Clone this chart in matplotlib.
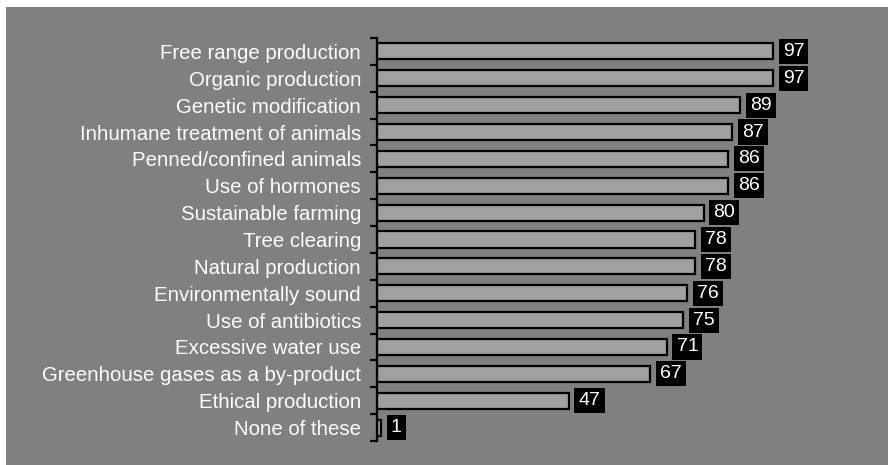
"""Attributes consumers care about - horizontal bar chart"""

import matplotlib
matplotlib.use('Agg')
from matplotlib import pyplot as plt
from matplotlib.patches import Rectangle
import numpy as np

categories = ['Free range production', 'Organic production', 'Genetic modification',
              'Inhumane treatment of animals', 'Penned/confined animals', 'Use of hormones',
              'Sustainable farming', 'Tree clearing', 'Natural production',
              'Environmentally sound', 'Use of antibiotics', 'Excessive water use',
              'Greenhouse gases as a by-product', 'Ethical production', 'None of these']
values = [97, 97, 89, 87, 86, 86, 80, 78, 78, 76, 75, 71, 67, 47, 1]

PANEL = '#808080'
BAR = '#a0a0a0'

plt.rcParams['font.family'] = ['Liberation Sans', 'DejaVu Sans']

fig = plt.figure(figsize=(8.88, 4.65), dpi=100)
fig.patch.set_facecolor('white')
fig.patches.append(Rectangle((6 / 888, 0), 1, 1 - 7 / 465, transform=fig.transFigure,
                             facecolor=PANEL, edgecolor='none', zorder=-10))

ax = fig.add_axes([377 / 888, 1 - 441 / 465, 1 - 377 / 888 - 7 / 888, (441 - 38) / 465])
ax.set_facecolor('none')
ax.set_zorder(5)

y = np.arange(len(categories))
ax.barh(y, values, height=0.6, color=BAR, edgecolor='black', linewidth=1.6)

for yi, v in zip(y, values):
    ax.annotate(str(v), (v, yi), xytext=(7, 0), textcoords='offset points',
                ha='left', va='center', fontsize=14, color='white',
                bbox=dict(boxstyle='square,pad=0.21', facecolor='black', edgecolor='none'))

ax.set_ylim(len(categories) - 0.5, -0.5)
ax.set_xlim(0, (881 - 377) / 4.082)
ax.set_yticks(y)
ax.set_yticklabels(categories, fontsize=14.7, color='white')
ax.set_yticks(np.arange(-0.5, len(categories)), minor=True)
ax.tick_params(axis='y', which='major', length=0, pad=11.5)
ax.tick_params(axis='y', which='minor', length=5, width=1.6, direction='out', color='black')
ax.set_xticks([])
for s in ['top', 'right', 'bottom']:
    ax.spines[s].set_visible(False)
ax.spines['left'].set_linewidth(1.6)

fig.savefig('out.png', dpi=100)
